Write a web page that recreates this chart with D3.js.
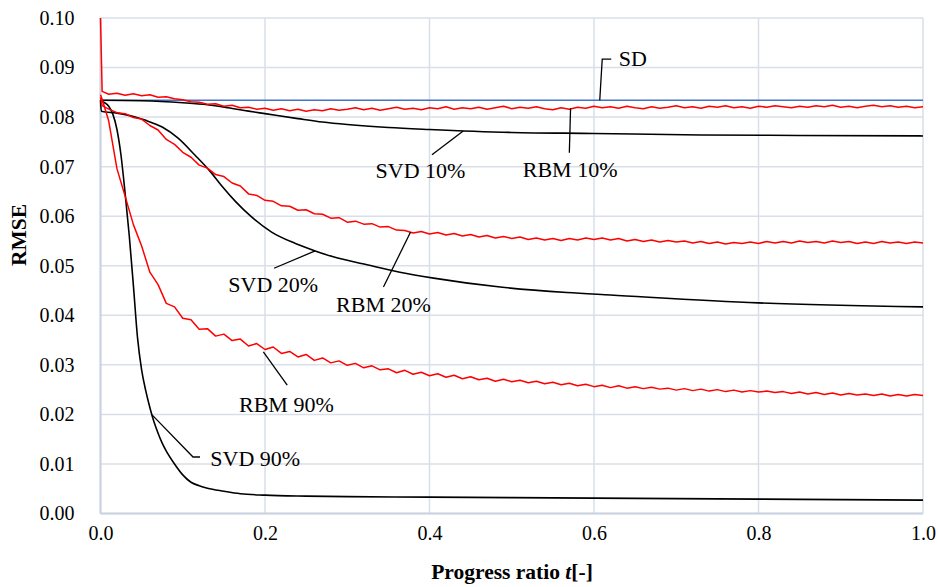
<!DOCTYPE html>
<html><head><meta charset="utf-8">
<script src="https://cdn.jsdelivr.net/npm/d3@7"></script>
<style>
body{margin:0;background:#fff}
svg{display:block}
text{font-family:"Liberation Serif","Times New Roman",serif;fill:#000}
</style>
</head><body>
<svg id="chart" width="938" height="587"></svg>
<script>
// ---------- data ----------
const yTickValues = [0.00,0.01,0.02,0.03,0.04,0.05,0.06,0.07,0.08,0.09,0.10];
const xTickValues = [0.0,0.2,0.4,0.6,0.8,1.0];

// sample positions of the noisy RBM curves
const rbmProgress = [0,0.002,0.01,0.02,0.03,0.04,0.05,0.06,0.07,0.08,0.09,
 0.10,0.11,0.12,0.13,0.14,0.15,0.16,0.17,0.18,0.19,
 0.20,0.21,0.22,0.23,0.24,0.25,0.26,0.27,0.28,0.29,
 0.30,0.31,0.32,0.33,0.34,0.35,0.36,0.37,0.38,0.39,
 0.40,0.41,0.42,0.43,0.44,0.45,0.46,0.47,0.48,0.49,
 0.50,0.51,0.52,0.53,0.54,0.55,0.56,0.57,0.58,0.59,
 0.60,0.61,0.62,0.63,0.64,0.65,0.66,0.67,0.68,0.69,
 0.70,0.71,0.72,0.73,0.74,0.75,0.76,0.77,0.78,0.79,
 0.80,0.81,0.82,0.83,0.84,0.85,0.86,0.87,0.88,0.89,
 0.90,0.91,0.92,0.93,0.94,0.95,0.96,0.97,0.98,0.99,1.00];

const rbm10 = [0.1000,0.0852,0.0846,0.0848,0.0844,0.0847,0.0843,0.0845,0.0840,0.0841,0.0837,
 0.0835,0.0831,0.0830,0.0826,0.0827,0.0822,0.0824,0.0819,0.0820,0.0816,
 0.0818,0.0814,0.0817,0.0813,0.0816,0.0812,0.0815,0.0813,0.0817,0.0814,
 0.0816,0.0819,0.0815,0.0818,0.0814,0.0817,0.0820,0.0816,0.0818,0.0815,
 0.0819,0.0817,0.0821,0.0816,0.0819,0.0817,0.0820,0.0816,0.0819,0.0822,
 0.0817,0.0820,0.0818,0.0821,0.0817,0.0815,0.0819,0.0816,0.0820,0.0818,
 0.0822,0.0819,0.0821,0.0818,0.0822,0.0819,0.0817,0.0821,0.0818,0.0820,
 0.0823,0.0819,0.0821,0.0818,0.0822,0.0820,0.0823,0.0819,0.0821,0.0818,
 0.0822,0.0820,0.0823,0.0821,0.0819,0.0822,0.0820,0.0823,0.0821,0.0824,
 0.0820,0.0822,0.0819,0.0822,0.0824,0.0821,0.0823,0.0820,0.0822,0.0819,0.0821];

const rbm20 = [0.0840,0.0823,0.0816,0.0809,0.0807,0.0799,0.0796,0.0783,0.0774,0.0755,0.0745,
 0.0729,0.0719,0.0703,0.0697,0.0684,0.0680,0.0667,0.0661,0.0645,0.0642,
 0.0632,0.0630,0.0621,0.0620,0.0612,0.0613,0.0605,0.0604,0.0596,0.0597,
 0.0588,0.0590,0.0584,0.0585,0.0578,0.0579,0.0572,0.0571,0.0566,0.0569,
 0.0564,0.0567,0.0562,0.0565,0.0560,0.0563,0.0558,0.0561,0.0556,0.0559,
 0.0555,0.0558,0.0553,0.0556,0.0552,0.0555,0.0551,0.0555,0.0552,0.0556,
 0.0553,0.0556,0.0552,0.0555,0.0550,0.0553,0.0549,0.0552,0.0548,0.0551,
 0.0548,0.0550,0.0546,0.0549,0.0545,0.0548,0.0544,0.0547,0.0545,0.0548,
 0.0545,0.0549,0.0546,0.0549,0.0546,0.0550,0.0547,0.0549,0.0546,0.0550,
 0.0547,0.0549,0.0545,0.0548,0.0545,0.0549,0.0546,0.0548,0.0545,0.0548,0.0546];

const rbm90 = [0.0845,0.0836,0.0792,0.0696,0.0640,0.0583,0.0540,0.0487,0.0462,0.0424,0.0417,
 0.0394,0.0391,0.0372,0.0373,0.0358,0.0362,0.0349,0.0352,0.0338,0.0343,
 0.0331,0.0336,0.0323,0.0327,0.0316,0.0321,0.0309,0.0314,0.0304,0.0308,
 0.0299,0.0303,0.0294,0.0298,0.0290,0.0292,0.0284,0.0289,0.0281,0.0285,
 0.0278,0.0282,0.0275,0.0279,0.0272,0.0276,0.0270,0.0273,0.0267,0.0271,
 0.0266,0.0269,0.0264,0.0267,0.0262,0.0265,0.0260,0.0263,0.0258,0.0261,
 0.0256,0.0259,0.0254,0.0258,0.0253,0.0256,0.0252,0.0255,0.0251,0.0253,
 0.0249,0.0252,0.0248,0.0251,0.0247,0.0250,0.0246,0.0249,0.0245,0.0248,
 0.0245,0.0247,0.0244,0.0246,0.0242,0.0245,0.0241,0.0244,0.0240,0.0243,
 0.0239,0.0242,0.0239,0.0241,0.0238,0.0241,0.0237,0.0240,0.0237,0.0240,0.0238];

const sdProgress = [0, 1];
const sdValues = [0.0834, 0.0834];

const svd10Progress = [0,0.05,0.10,0.13,0.155,0.18,0.20,0.24,0.27,0.30,0.35,0.40,0.50,0.60,0.73,0.85,1.00];
const svd10 = [0.0834,0.0833,0.0829,0.0825,0.0819,0.0812,0.0807,0.0797,0.0790,0.0785,0.0779,0.0775,0.0769,0.0767,0.0764,0.0763,0.0762];

const svd20Progress = [0,0.001,0.02,0.033,0.054,0.075,0.094,0.115,0.133,0.147,0.164,0.184,0.208,0.237,0.261,0.283,0.324,0.364,0.405,0.486,0.567,0.62,0.80,1.00];
const svd20 = [0.0834,0.0812,0.0808,0.0804,0.0794,0.0780,0.0758,0.0723,0.0691,0.0662,0.0630,0.0598,0.0568,0.0545,0.0530,0.0518,0.0502,0.0487,0.0475,0.0457,0.0446,0.0441,0.0425,0.0417];

const svd90Progress = [0,0.005,0.01,0.015,0.02,0.025,0.03,0.035,0.04,0.045,0.05,0.055,0.06,0.065,0.07,0.075,0.08,0.09,0.10,0.11,0.12,0.13,0.15,0.17,0.20,0.25,0.30,0.40,0.50,0.60,0.70,0.80,0.90,1.00];
const svd90 = [0.0833,0.0829,0.0822,0.0806,0.0775,0.0722,0.0645,0.0560,0.0460,0.0355,0.0290,0.0248,0.0214,0.0185,0.0162,0.0142,0.0126,0.0100,0.0078,0.0063,0.0056,0.0051,0.0045,0.0040,0.0037,0.0035,0.0034,0.0033,0.0032,0.0031,0.0030,0.0029,0.0028,0.0027];

const seriesLabels = ["SD","RBM 10%","SVD 10%","SVD 20%","RBM 20%","RBM 90%","SVD 90%"];

// ---------- layout ----------
const W = 938, H = 587;
const plot = {left: 100.5, right: 923, top: 18, bottom: 513.5};
const TICK_FONT = 20, LABEL_FONT = 22, TITLE_FONT = 21.5;

const x = d3.scaleLinear().domain([0, 1]).range([plot.left, plot.right]);
const y = d3.scaleLinear().domain([0, 0.10]).range([plot.bottom, plot.top]);

const svg = d3.select("#chart");
svg.append("rect").attr("width", W).attr("height", H).attr("fill", "#fff");

const gridColor = "#D9DFE8";
svg.append("g").selectAll("line").data(yTickValues).join("line")
  .attr("x1", plot.left).attr("x2", plot.right)
  .attr("y1", d => y(d)).attr("y2", d => y(d))
  .attr("stroke", gridColor).attr("stroke-width", 1.5);
svg.append("g").selectAll("line").data(xTickValues).join("line")
  .attr("x1", d => x(d)).attr("x2", d => x(d))
  .attr("y1", plot.top).attr("y2", plot.bottom)
  .attr("stroke", gridColor).attr("stroke-width", 1.5);

svg.append("line").attr("x1", plot.left).attr("x2", plot.left).attr("y1", plot.top).attr("y2", plot.bottom)
  .attr("stroke", "#C9D2E0").attr("stroke-width", 2);
svg.append("line").attr("x1", plot.left).attr("x2", plot.right).attr("y1", plot.bottom).attr("y2", plot.bottom)
  .attr("stroke", "#C9D2E0").attr("stroke-width", 2);

const yAxis = d3.axisLeft(y).tickValues(yTickValues).tickFormat(d3.format(".2f")).tickSize(0).tickPadding(26);
const gy = svg.append("g").attr("transform", `translate(${plot.left},0)`).call(yAxis);
gy.select(".domain").remove();
gy.selectAll("text").attr("font-size", TICK_FONT).attr("fill", "#000");

const xAxis = d3.axisBottom(x).tickValues(xTickValues).tickFormat(d3.format(".1f")).tickSize(0).tickPadding(12);
const gx = svg.append("g").attr("transform", `translate(0,${plot.bottom})`).call(xAxis);
gx.select(".domain").remove();
gx.selectAll("text").attr("font-size", TICK_FONT).attr("fill", "#000");

svg.append("text").attr("x", 512).attr("y", 579).attr("text-anchor", "middle")
  .attr("font-size", TITLE_FONT).attr("font-weight", "bold")
  .call(t => {
    t.append("tspan").text("Progress ratio ");
    t.append("tspan").attr("font-style", "italic").text("t");
    t.append("tspan").text("[-]");
  });
svg.append("text").attr("transform", "translate(26,235) rotate(-90)").attr("text-anchor", "middle")
  .attr("font-size", TITLE_FONT).attr("font-weight", "bold").text("RMSE");

svg.append("clipPath").attr("id", "plotclip").append("rect")
  .attr("x", plot.left - 2).attr("y", plot.top).attr("width", plot.right - plot.left + 4).attr("height", plot.bottom - plot.top);
const gLines = svg.append("g").attr("clip-path", "url(#plotclip)");

function drawSeries(ts, vs, color, curve, width) {
  const pts = ts.map((t, i) => [t, vs[i]]);
  const line = d3.line().x(d => x(d[0])).y(d => y(d[1])).curve(curve);
  gLines.append("path").datum(pts).attr("d", line)
    .attr("fill", "none").attr("stroke", color).attr("stroke-width", width)
    .attr("stroke-linejoin", "round");
}

drawSeries(sdProgress, sdValues, "#4472C4", d3.curveLinear, 1.6);
drawSeries(svd10Progress, svd10, "#000", d3.curveMonotoneX, 1.6);
drawSeries(svd20Progress, svd20, "#000", d3.curveMonotoneX, 1.6);
drawSeries(svd90Progress, svd90, "#000", d3.curveMonotoneX, 1.6);
drawSeries(rbmProgress, rbm10, "#FF0000", d3.curveLinear, 1.5);
drawSeries(rbmProgress, rbm20, "#FF0000", d3.curveLinear, 1.5);
drawSeries(rbmProgress, rbm90, "#FF0000", d3.curveLinear, 1.5);

const annotations = [
  {label: seriesLabels[0], anchor: "start",  tx: 0.630, ty: 0.0903, path: [[0.621,0.0917],[0.610,0.0917],[0.607,0.0834]]},
  {label: seriesLabels[1], anchor: "middle", tx: 0.571, ty: 0.0679, path: [[0.5715,0.0818],[0.570,0.0728]]},
  {label: seriesLabels[2], anchor: "middle", tx: 0.389, ty: 0.0677, path: [[0.403,0.0724],[0.441,0.0772]]},
  {label: seriesLabels[3], anchor: "middle", tx: 0.210, ty: 0.0447, path: [[0.211,0.0495],[0.261,0.0530]]},
  {label: seriesLabels[4], anchor: "middle", tx: 0.344, ty: 0.0407, path: [[0.344,0.0457],[0.377,0.0568]]},
  {label: seriesLabels[5], anchor: "middle", tx: 0.226, ty: 0.0205, path: [[0.227,0.0259],[0.198,0.0326]]},
  {label: seriesLabels[6], anchor: "start",  tx: 0.1335, ty: 0.0096, path: [[0.121,0.0114],[0.1125,0.0114],[0.0627,0.0199]]}
];
const ann = svg.append("g");
annotations.forEach(a => {
  ann.append("path").attr("d", d3.line().x(d => x(d[0])).y(d => y(d[1])).curve(d3.curveLinear)(a.path))
    .attr("fill", "none").attr("stroke", "#000").attr("stroke-width", 1.3);
  ann.append("text").attr("x", x(a.tx)).attr("y", y(a.ty)).attr("text-anchor", a.anchor)
    .attr("font-size", LABEL_FONT).text(a.label);
});
</script>
</body></html>
